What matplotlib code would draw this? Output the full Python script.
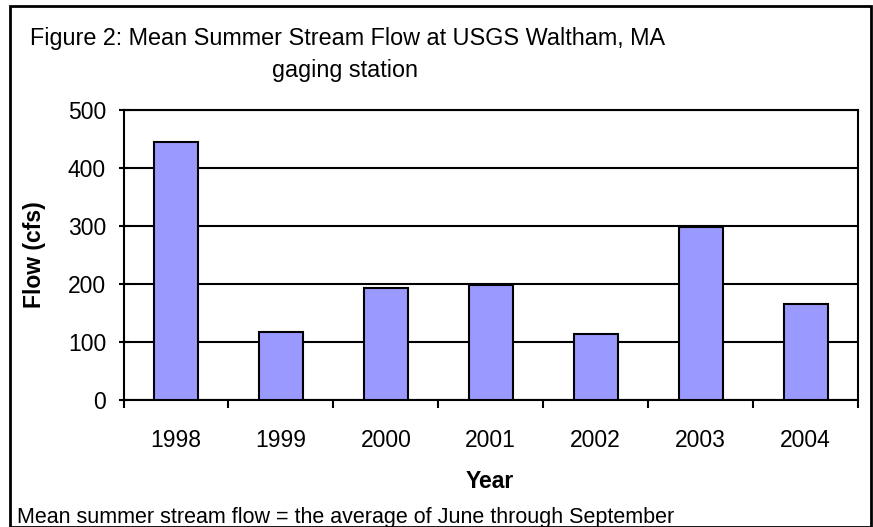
import matplotlib
matplotlib.use("Agg")
import matplotlib.pyplot as plt
from matplotlib.patches import Rectangle
import numpy as np

years = ["1998", "1999", "2000", "2001", "2002", "2003", "2004"]
flow_cfs = [445, 117, 193, 198, 113, 298, 165]
y_ticks = [0, 100, 200, 300, 400, 500]

plt.rcParams['font.family'] = ['Liberation Sans', 'DejaVu Sans']
FS = 16.5

W, H = 873, 527
fig = plt.figure(figsize=(W / 100, H / 100), dpi=100)

# outer border
fig.patches.append(Rectangle((10 / W, 0), (871 - 10) / W, (H - 6) / H,
                             transform=fig.transFigure, fill=False,
                             edgecolor='black', linewidth=2.0, zorder=0))

left, right, top, bottom = 123.5, 858, 110, 400
ax = fig.add_axes([left / W, (H - bottom) / H, (right - left) / W, (bottom - top) / H])

x = np.arange(len(years))
ax.bar(x, flow_cfs, width=0.42, color='#9999FF', edgecolor='black', linewidth=1.5, zorder=3)

ax.set_xlim(-0.5, len(years) - 0.5)
ax.set_ylim(0, 500)
ax.set_yticks(y_ticks)
ax.set_yticklabels([str(v) for v in y_ticks], fontsize=FS)
ax.set_xticks(x)
ax.set_xticklabels(years, fontsize=FS)
ax.tick_params(axis='x', length=0, pad=21)
ax.set_xticks(np.arange(-0.5, len(years)), minor=True)
ax.tick_params(axis='x', which='minor', length=6, width=1.5, direction='out')
ax.tick_params(axis='y', length=7.2, width=1.5, direction='inout', pad=9)

ax.yaxis.grid(True, color='black', linewidth=1.5, zorder=1)
ax.set_axisbelow(True)
for s in ax.spines.values():
    s.set_linewidth(1.5)

fig.text(34 / W, 1 - 255 / H, "Flow (cfs)", fontsize=FS, fontweight='bold',
         rotation=90, ha='center', va='center')
fig.text(489.5 / W, 1 - 482 / H, "Year", fontsize=FS, fontweight='bold',
         ha='center', va='center')

fig.text(30 / W, 1 - 38 / H, "Figure 2: Mean Summer Stream Flow at USGS Waltham, MA",
         fontsize=16.8, ha='left', va='center')
fig.text(272 / W, 1 - 71 / H, "gaging station", fontsize=16.8, ha='left', va='center')
fig.text(17 / W, 1 - 517 / H, "Mean summer stream flow = the average of June through September",
         fontsize=15.5, ha='left', va='center')

fig.savefig("out.png", dpi=100)
